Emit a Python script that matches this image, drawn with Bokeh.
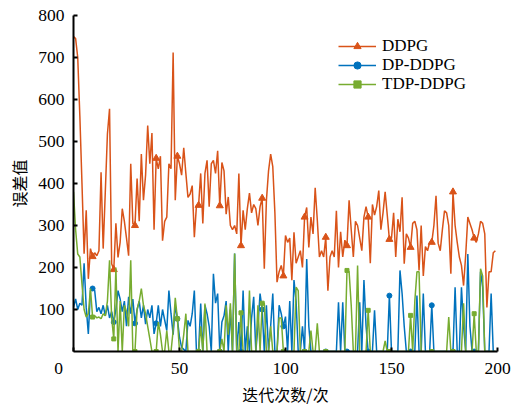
from bokeh.plotting import figure
from bokeh.models import ColumnDataSource, FixedTicker, Legend, LegendItem
from bokeh.embed import file_html
from bokeh.resources import INLINE

# ---------------- data ----------------
ddpg = [750, 745, 700, 560, 400, 233, 336, 173, 245, 226,
        235, 228, 240, 427, 245, 380, 518, 578, 209, 195,
        305, 224, 260, 340, 310, 270, 228, 447, 305, 300,
        412, 310, 470, 360, 420, 538, 447, 520, 290, 460,
        435, 465, 264, 310, 320, 447, 435, 712, 360, 465,
        447, 420, 485, 424, 367, 375, 395, 272, 348, 348,
        424, 305, 424, 455, 345, 447, 455, 424, 478, 347,
        450, 430, 327, 368, 300, 290, 300, 280, 424, 252,
        336, 290, 340, 377, 330, 350, 340, 300, 345, 365,
        197, 360, 430, 470, 440, 330, 165, 190, 205, 180,
        276, 260, 270, 170, 284, 210, 225, 240, 200, 320,
        343, 248, 320, 280, 390, 313, 225, 240, 225, 272,
        145, 225, 240, 225, 335, 200, 285, 225, 265, 252,
        360, 290, 225, 310, 300, 270, 240, 320, 345, 320,
        210, 350, 325, 345, 383, 290, 330, 380, 325, 267,
        270, 330, 225, 315, 285, 367, 209, 280, 270, 248,
        305, 310, 290, 193, 300, 180, 250, 240, 260, 260,
        300, 371, 258, 240, 290, 335, 330, 300, 185, 380,
        300, 260, 225, 205, 157, 230, 320, 305, 290, 270,
        260, 280, 310, 305, 280, 105, 190, 190, 235, 240]

dp_ddpg = [105, 125, 100, 115, 110, 210, 105, 42, 145, 150,
           145, 95, 105, 90, 110, 85, 110, 80, 95, 70,
           100, 145, 125, 95, 120, 60, 130, 90, 125, 67,
           100, 120, 80, 110, 65, 100, 80, 110, 42, 67,
           110, 60, 100, 75, 50, 145, 90, 40, 110, 78,
           34, 10, 5, 0, 74, 60, 90, 145, 0, 0,
           114, 0, 110, 90, 60, 0, 185, 115, 138, 0,
           70, 85, 120, 0, 100, 0, 233, 0, 70, 0,
           145, 0, 60, 0, 80, 130, 0, 60, 138, 100,
           0, 110, 0, 60, 138, 0, 0, 110, 90, 60,
           83, 0, 120, 0, 170, 120, 0, 0, 60, 0,
           220, 60, 0, 0, 0, 0, 0, 0, 0, 0,
           0, 0, 0, 0, 0, 117, 0, 117, 0, 0,
           0, 0, 0, 0, 0, 117, 0, 170, 60, 0,
           0, 0, 98, 0, 0, 0, 0, 0, 0, 133,
           0, 0, 0, 0, 193, 138, 60, 0, 0, 0,
           0, 0, 133, 0, 0, 138, 0, 0, 0, 110,
           0, 0, 0, 0, 0, 0, 0, 0, 0, 0,
           153, 0, 0, 153, 60, 0, 232, 60, 0, 0,
           0, 0, 190, 153, 0, 0, 0, 138, 0, 0]

tdp_ddpg = [380, 290, 232, 225, 160, 100, 82, 90, 150, 82,
            85, 80, 82, 78, 90, 85, 120, 217, 80, 30,
            200, 0, 120, 0, 110, 95, 60, 217, 0, 0,
            100, 120, 150, 110, 90, 60, 30, 0, 0, 0,
            70, 40, 0, 0, 50, 0, 0, 50, 128, 78,
            0, 0, 40, 90, 0, 0, 0, 0, 0, 0,
            60, 0, 114, 0, 0, 0, 0, 0, 0, 0,
            30, 0, 110, 40, 115, 0, 233, 0, 0, 92,
            0, 0, 0, 145, 0, 0, 0, 110, 0, 115,
            115, 0, 0, 60, 0, 0, 0, 80, 80, 0,
            0, 0, 0, 0, 0, 153, 145, 0, 0, 0,
            0, 0, 50, 0, 0, 67, 0, 0, 0, 0,
            0, 0, 0, 0, 0, 0, 0, 0, 0, 193,
            190, 110, 0, 0, 205, 0, 0, 0, 0, 98,
            0, 0, 0, 0, 0, 0, 0, 25, 0, 0,
            0, 0, 0, 0, 0, 0, 0, 0, 0, 86,
            0, 120, 190, 190, 0, 0, 0, 0, 0, 0,
            0, 0, 0, 0, 0, 0, 0, 82, 0, 0,
            0, 0, 0, 0, 115, 0, 0, 0, 0, 90,
            0, 0, 197, 180, 0, 0, 0, 0, 0, 0]

iterations = list(range(len(ddpg)))
series_names = ["DDPG", "DP-DDPG", "TDP-DDPG"]
y_ticks = [100, 200, 300, 400, 500, 600, 700, 800]
x_ticks = [0, 50, 100, 150, 200]
origin_label = "0"
x_title = "迭代次数/次"
y_title = "误差值"

# ---------------- styles ----------------
colors = ["#D95319", "#0072BD", "#77AC30"]
markers = ["triangle", "circle", "square"]
msizes = [7, 5, 4]
SERIF = "Liberation Serif"
CJK = "Noto Sans CJK SC"
legend_y = [295, 276, 257]   # screen offsets of the three legend rows

p = figure(width=511, height=408, x_range=(0, 200), y_range=(0, 800),
           output_backend="svg", toolbar_location=None,
           min_border_left=73, min_border_right=14,
           min_border_top=15, min_border_bottom=57)
p.outline_line_color = None
p.xgrid.visible = False
p.ygrid.visible = False

for name, vals, c, m, s, ly in zip(series_names, [ddpg, dp_ddpg, tdp_ddpg],
                                   colors, markers, msizes, legend_y):
    src = ColumnDataSource(dict(x=iterations, y=vals))
    msrc = ColumnDataSource(dict(x=iterations[9:190:10], y=vals[9:190:10]))
    ln = p.line("x", "y", source=src, line_color=c, line_width=1.5)
    sc = p.scatter("x", "y", source=msrc, marker=m, size=s,
                   fill_color=c, line_color=c)
    leg = Legend(items=[LegendItem(label=name, renderers=[ln, sc])],
                 location=(265, ly), padding=0, spacing=0, margin=0,
                 border_line_alpha=0, background_fill_alpha=0,
                 glyph_width=38, glyph_height=18, label_height=18,
                 label_standoff=6, label_text_font=SERIF,
                 label_text_font_size="17px", label_text_color="black")
    p.add_layout(leg)

for ax, ticks in ((p.xaxis, x_ticks), (p.yaxis, y_ticks)):
    ax.ticker = FixedTicker(ticks=ticks)
    ax.axis_line_color = "black"
    ax.axis_line_width = 2
    ax.major_tick_in = 4
    ax.major_tick_out = 0
    ax.major_tick_line_width = 2
    ax.minor_tick_line_color = None
    ax.major_label_text_font = SERIF
    ax.major_label_text_font_size = "17.5px"
    ax.major_label_text_color = "black"
    ax.axis_label_text_font = CJK
    ax.axis_label_text_font_size = "16px"
    ax.axis_label_text_font_style = "normal"
    ax.axis_label_text_color = "black"

# the shared origin "0" sits below-left of the corner
p.xaxis.major_label_overrides = {0: origin_label + "\u2007\u2007\u2007\u2009"}
p.xaxis.axis_label = x_title
p.yaxis.axis_label = y_title
p.xaxis.major_label_standoff = 6
p.yaxis.major_label_standoff = 9
p.xaxis.axis_label_standoff = 1
p.yaxis.axis_label_standoff = 4

open("out.html", "w").write(file_html(p, INLINE))
